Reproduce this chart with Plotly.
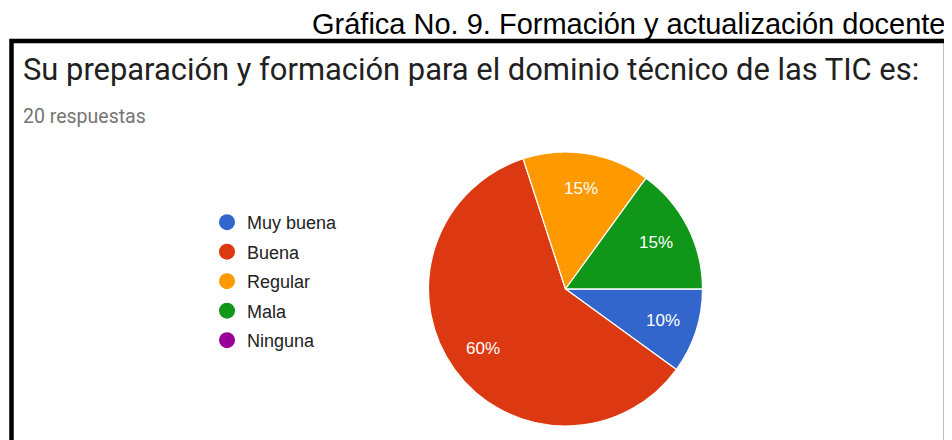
import math
import plotly.graph_objects as go

# The page body has an 8px margin: reference pixel (X, Y) maps to figure pixel (X-8, Y-8)
OFF = 8
W, H = 944, 432

categories = ["Muy buena", "Buena", "Regular", "Mala", "Ninguna"]
counts = [2, 12, 3, 3, 0]
colors = ["#3366cc", "#dc3912", "#ff9900", "#109618", "#990099"]

fig_title = "Gráfica No. 9. Formación y actualización docente"
question = "Su preparación y formación para el dominio técnico de las TIC es:"
responses = "20 respuestas"


def px_x(x):
    return (x - OFF) / W


def px_y(y):
    return 1 - (y - OFF) / H


fig = go.Figure()

cx, cy, r = 565.5, 289, 137
fig.add_trace(go.Pie(
    labels=categories,
    values=counts,
    marker=dict(colors=colors, line=dict(color="white", width=1.2)),
    sort=False,
    direction="clockwise",
    rotation=90,
    textinfo="none",
    showlegend=False,
    hoverinfo="label+percent",
    domain=dict(x=[px_x(cx - r), px_x(cx + r)], y=[px_y(cy + r), px_y(cy - r)]),
))

# legend entries (circles) from the category list
for cat, col in zip(categories, colors):
    fig.add_trace(go.Scatter(
        x=[None], y=[None], mode="markers", name=cat,
        legendgroup=cat,
        marker=dict(symbol="circle", size=17, color=col),
        showlegend=True,
    ))

# slice percentage labels, placed along each slice's mid-angle (clockwise from 3 o'clock)
total = sum(counts)
annotations = []
cum = 0
for c in counts:
    if c > 0:
        mid = (cum + c / 2) / total * 2 * math.pi
        lx = cx + 0.745 * r * math.cos(mid)
        ly = cy + 0.745 * r * math.sin(mid)
        annotations.append(dict(
            text=f"{round(100 * c / total)}%", xref="paper", yref="paper",
            x=px_x(lx), y=px_y(ly), xanchor="center", yanchor="middle",
            showarrow=False,
            font=dict(family="Arial, Liberation Sans", size=17, color="white"),
        ))
    cum += c

annotations += [
    dict(text=fig_title, xref="paper", yref="paper", x=px_x(947), y=px_y(24),
         xanchor="right", yanchor="middle", showarrow=False,
         font=dict(family="Arial, Liberation Sans", size=29, color="black")),
    dict(text=question, xref="paper", yref="paper", x=px_x(21), y=px_y(69),
         xanchor="left", yanchor="middle", showarrow=False,
         font=dict(family="Roboto", size=30.9, color="#212121")),
    dict(text=responses, xref="paper", yref="paper", x=px_x(21), y=px_y(116),
         xanchor="left", yanchor="middle", showarrow=False,
         font=dict(family="Roboto", size=19.5, color="#757575")),
]

fig.update_layout(
    width=W, height=H,
    margin=dict(l=0, r=0, t=0, b=0),
    paper_bgcolor="white",
    plot_bgcolor="white",
    xaxis=dict(visible=False),
    yaxis=dict(visible=False),
    showlegend=True,
    legend=dict(
        x=px_x(207), y=px_y(204), xanchor="left", yanchor="top",
        font=dict(family="Arial, Liberation Sans", size=18, color="#222222"),
        tracegroupgap=3.1,
        bgcolor="rgba(0,0,0,0)",
        itemclick=False, itemdoubleclick=False,
    ),
    shapes=[dict(
        type="rect", xref="paper", yref="paper",
        x0=px_x(11.5), x1=px_x(946), y0=px_y(470), y1=px_y(41),
        line=dict(color="black", width=4.5), fillcolor="rgba(0,0,0,0)",
    )],
    annotations=annotations,
)

fig.write_html("out.html")
